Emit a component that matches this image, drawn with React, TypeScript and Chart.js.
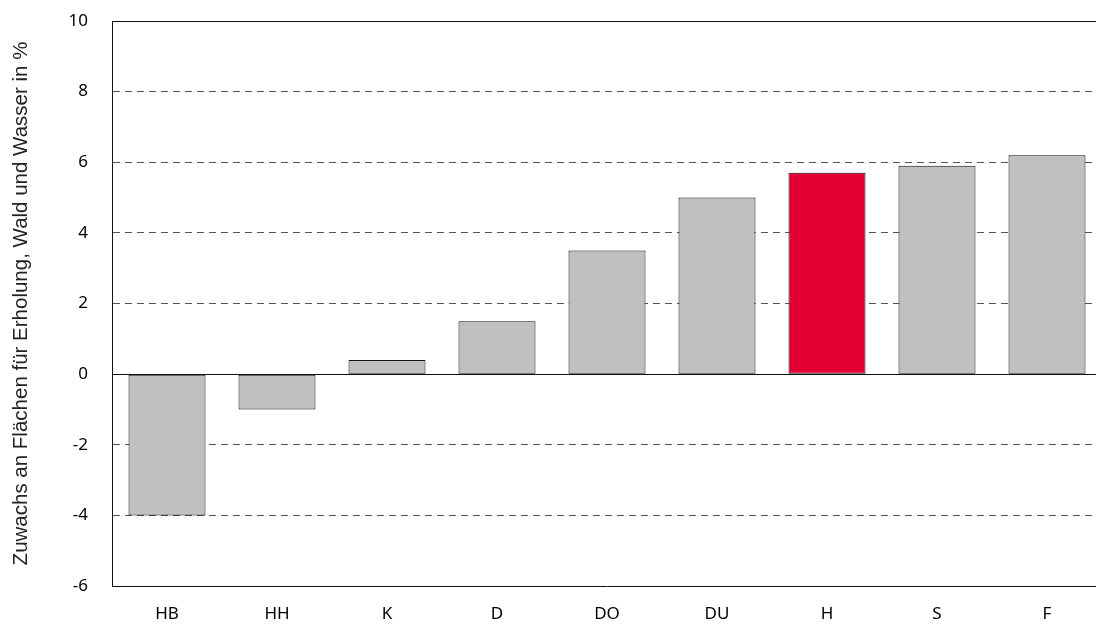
import React, { useEffect, useRef } from "react";
import { Chart, registerables } from "chart.js";

Chart.register(...registerables);

const categories = ["HB", "HH", "K", "D", "DO", "DU", "H", "S", "F"];
const values = [-4, -1, 0.4, 1.5, 3.5, 5.0, 5.7, 5.9, 6.2];
const highlight = "H";
const yTicks = [-6, -4, -2, 0, 2, 4, 6, 8, 10];
const yTitle = "Zuwachs an Flächen für Erholung, Wald und Wasser in %";

const GREY = "#c0c0c0";
const RED = "#e30034";

const linePlugin = {
  id: "solidLines",
  afterDatasetsDraw(chart: any) {
    const { ctx, chartArea, scales } = chart;
    const y0 = scales.y.getPixelForValue(0);
    ctx.save();
    ctx.strokeStyle = "#111";
    ctx.lineWidth = 1;
    ctx.setLineDash([]);
    ctx.beginPath();
    ctx.moveTo(chartArea.left, Math.round(y0) + 0.5);
    ctx.lineTo(chartArea.right, Math.round(y0) + 0.5);
    ctx.moveTo(chartArea.left, Math.round(chartArea.top) + 0.5);
    ctx.lineTo(chartArea.right, Math.round(chartArea.top) + 0.5);
    ctx.stroke();
    ctx.restore();
  },
};

export default function App() {
  const ref = useRef<HTMLCanvasElement>(null);
  useEffect(() => {
    if (!ref.current) return;
    const chart = new Chart(ref.current, {
      type: "bar",
      data: {
        labels: categories,
        datasets: [
          {
            data: values,
            backgroundColor: categories.map((c) => (c === highlight ? RED : GREY)),
            borderColor: "#111",
            borderWidth: 1,
            borderSkipped: false,
            barPercentage: 0.7,
            categoryPercentage: 1,
          },
        ],
      },
      options: {
        animation: false,
        responsive: false,
        maintainAspectRatio: false,
        layout: { padding: { top: 21, left: 0, right: 0, bottom: 0 } },
        plugins: { legend: { display: false }, tooltip: { enabled: false } },
        scales: {
          x: {
            grid: { display: false },
            border: { display: true, color: "#111", width: 1 },
            ticks: {
              color: "#000",
              font: { family: "Noto Sans", size: 17 },
              padding: 10,
            },
            afterFit(scale: any) {
              scale.height = 38;
              scale.paddingLeft = 0;
              scale.paddingRight = 0;
            },
          },
          y: {
            min: -6,
            max: 10,
            afterBuildTicks(scale: any) {
              scale.ticks = yTicks.map((v) => ({ value: v }));
            },
            grid: {
              color: (ctx: any) =>
                ctx.tick && (ctx.tick.value === -6 || ctx.tick.value === 10 || ctx.tick.value === 0)
                  ? "rgba(0,0,0,0)"
                  : "#555",
              lineWidth: 1,
              drawTicks: false,
            },
            border: { display: true, color: "#111", width: 1, dash: [7, 5] },
            ticks: {
              color: "#000",
              font: { family: "Noto Sans", size: 17 },
              padding: 24,
            },
            title: {
              display: true,
              text: yTitle,
              color: "#222",
              font: { family: "Liberation Sans", size: 20.5 },
              padding: { top: 9, bottom: 0 },
            },
            afterFit(scale: any) {
              scale.width = 112;
              scale.paddingTop = 0;
              scale.paddingBottom = 0;
            },
          },
        },
      },
      plugins: [linePlugin],
    });
    return () => chart.destroy();
  }, []);
  return (
    <div style={{ position: "absolute", left: 0, top: 0, width: 1096, height: 624, overflow: "hidden", background: "#fff" }}>
      <canvas ref={ref} width={1102} height={624} style={{ display: "block", width: 1102, height: 624 }} />
    </div>
  );
}
